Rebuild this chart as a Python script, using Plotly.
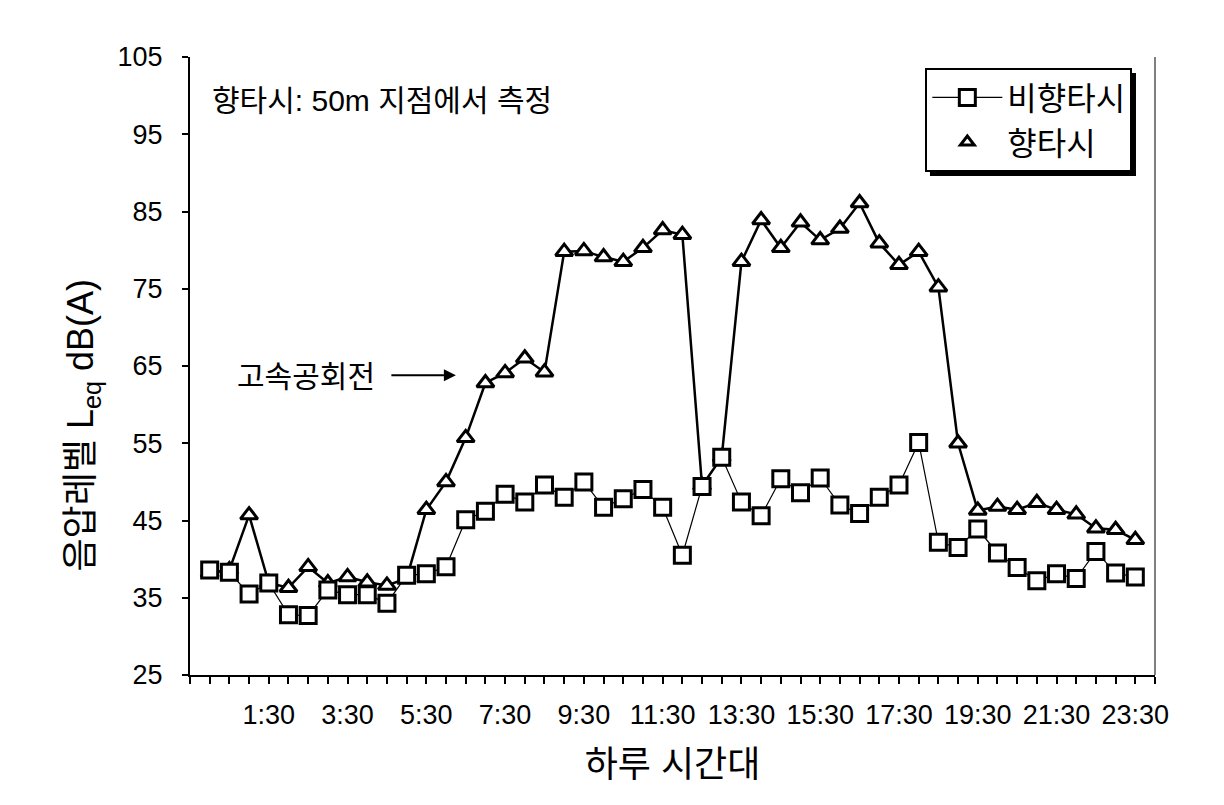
import plotly.graph_objects as go

# ---- data ----
times = [f"{h}:{m:02d}" for h in range(24) for m in (0, 30)]
non_hangta = [38.6, 38.3, 35.5, 36.9, 32.8, 32.7, 36.0, 35.4, 35.4, 34.3, 37.9, 38.1,
              39.0, 45.1, 46.2, 48.4, 47.4, 49.6, 48.0, 50.0, 46.7, 47.8, 49.0, 46.7,
              40.5, 49.4, 53.2, 47.4, 45.6, 50.4, 48.6, 50.5, 47.0, 45.9, 48.0, 49.6,
              55.1, 42.2, 41.5, 43.9, 40.8, 38.9, 37.2, 38.1, 37.5, 41.0, 38.2, 37.7]
hangta = [38.2, 38.6, 45.7, 36.9, 36.3, 39.0, 36.9, 37.7, 37.0, 36.6, 37.5, 46.4,
          50.0, 55.7, 62.8, 64.1, 66.0, 64.2, 79.8, 79.9, 79.1, 78.5, 80.3, 82.6,
          82.0, 49.5, 53.2, 78.5, 83.9, 80.3, 83.6, 81.3, 82.8, 86.1, 80.9, 78.1,
          79.8, 75.2, 55.0, 46.3, 46.8, 46.4, 47.3, 46.4, 45.8, 44.0, 43.8, 42.5]
label_times = ["1:30", "3:30", "5:30", "7:30", "9:30", "11:30",
               "13:30", "15:30", "17:30", "19:30", "21:30", "23:30"]

idx = list(range(len(times)))
label_idx = [times.index(t) for t in label_times]

FONT = "Liberation Sans, Arial, Noto Sans CJK KR, sans-serif"

fig = go.Figure()
fig.add_trace(go.Scatter(
    x=idx, y=hangta, mode="lines+markers", name="향타시", showlegend=False,
    line=dict(color="black", width=2.5),
    marker=dict(symbol="triangle-up", size=15, color="white",
                line=dict(color="black", width=3)),
))
fig.add_trace(go.Scatter(
    x=idx, y=non_hangta, mode="lines+markers", name="비향타시",
    line=dict(color="black", width=1.2),
    marker=dict(symbol="square", size=16, color="white",
                line=dict(color="black", width=3)),
))
# legend-only entry for the triangle series (marker only, as in the original)
fig.add_trace(go.Scatter(
    x=[None], y=[None], mode="markers", name="향타시",
    marker=dict(symbol="triangle-up", size=12, color="white",
                line=dict(color="black", width=3)),
))

fig.update_layout(
    width=1224, height=805,
    margin=dict(l=190, r=69, t=57, b=130),
    paper_bgcolor="white", plot_bgcolor="white",
    font=dict(family=FONT, size=27, color="black"),
    legend=dict(x=0.762, y=0.982, xanchor="left", yanchor="top",
                bgcolor="white", bordercolor="black", borderwidth=2,
                font=dict(size=32), itemwidth=70, tracegroupgap=0),
    xaxis=dict(
        range=[-1, 48], showgrid=False, zeroline=False,
        showline=True, linecolor="black", linewidth=2,
        tickmode="array", tickvals=label_idx, ticktext=label_times,
        ticks="outside", ticklen=7, tickcolor="black", tickwidth=1.5,
        ticklabelstandoff=8,
        minor=dict(tickmode="array", tickvals=list(range(-1, 49)),
                   ticks="outside", ticklen=7, tickcolor="black", tickwidth=1.5),
        tickfont=dict(size=27),
        title=dict(text="하루 시간대", font=dict(size=36), standoff=22),
    ),
    yaxis=dict(
        range=[25, 105], dtick=10, tick0=25, showgrid=False, zeroline=False,
        showline=True, linecolor="black", linewidth=2,
        ticks="outside", ticklen=6, tickcolor="black", tickwidth=1.5,
        ticklabelstandoff=14,
        tickfont=dict(size=27),
    ),
    shapes=[
        dict(type="line", xref="paper", yref="paper", x0=1, x1=1, y0=0, y1=1,
             line=dict(color="black", width=1)),
        dict(type="rect", xref="paper", yref="paper",
             x0=0.7668, x1=0.9803, y0=0.8074, y1=0.974,
             fillcolor="black", line=dict(width=0), layer="below"),
    ],
    annotations=[
        dict(text="음압레벨 L<sub>eq</sub> dB(A)", xref="paper", yref="paper",
             x=-0.111, y=0.405, xanchor="center", yanchor="middle",
             textangle=-90, showarrow=False, font=dict(size=36)),
        dict(text="향타시: 50m 지점에서 측정", xref="paper", yref="paper",
             x=0.021, y=0.930, xanchor="left", yanchor="middle",
             showarrow=False, font=dict(size=30)),
        dict(text="고속공회전", x=1.3, y=63.6, xanchor="left", yanchor="middle",
             showarrow=False, font=dict(size=30)),
        dict(text="", x=12.5, y=63.8, ax=-66, ay=0, showarrow=True,
             arrowhead=2, arrowsize=1.2, arrowwidth=2, arrowcolor="black"),
    ],
)

fig.write_html("out.html")
